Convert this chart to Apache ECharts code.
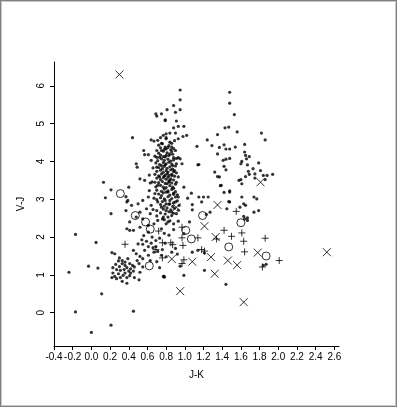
<!DOCTYPE html>
<html>
<head>
<meta charset="utf-8">
<script src="https://cdn.jsdelivr.net/npm/echarts@6/dist/echarts.min.js"></script>
<style>
html,body{margin:0;padding:0;background:#fff;}
#wrap{position:relative;width:397px;height:407px;}
#chart{position:absolute;left:0;top:0;width:397px;height:407px;}
#frame{position:absolute;left:0;top:0;width:397px;height:407px;box-sizing:border-box;border:1px solid #808080;box-shadow:inset 0 0 0 1px #c8c8c8;pointer-events:none;}
</style>
</head>
<body>
<div id="wrap"><div id="chart"></div><div id="frame"></div></div>
<script>
// Axis ticks
const xTicks = [-0.4,-0.2,0.0,0.2,0.4,0.6,0.8,1.0,1.2,1.4,1.6,1.8,2.0,2.2,2.4,2.6];
const yTicks = [0,1,2,3,4,5,6];

// Small filled dots [J-K, V-J]
const dots = [
 [-0.24,1.07],[-0.17,2.07],[-0.17,0.02],[-0.03,1.23],[0.0,-0.52],[0.05,1.86],[0.07,1.18],[0.11,0.50],[0.21,-0.33],[0.45,0.04],
 [0.13,3.45],[0.15,3.04],[0.21,3.25],[0.21,2.62],[0.44,4.63],
 [0.22,1.59],[0.25,1.56],[0.37,3.07],[0.38,2.93],[0.40,3.32],[0.37,2.70],[0.41,2.18],
 [0.30,1.45],[0.33,1.38],[0.36,1.34],[0.39,1.43],[0.41,1.30],[0.44,1.25],[0.30,1.22],[0.27,1.14],[0.23,1.05],[0.25,0.96],
 [0.27,0.90],[0.31,0.93],[0.34,0.99],[0.36,1.05],[0.40,1.10],[0.42,1.16],[0.45,1.10],[0.41,0.98],[0.38,0.93],[0.33,0.83],
 [0.29,1.03],[0.31,1.12],[0.35,1.14],[0.38,1.19],[0.46,1.21],[0.51,1.30],[0.52,1.07],[0.51,0.87],[0.38,0.78],[0.36,1.25],
 [0.33,1.30],[0.29,1.37],[0.26,1.28],[0.23,1.19],[0.22,0.93],[0.42,1.05],[0.46,0.93],
 [0.57,1.65],[0.61,1.75],[0.55,1.81],[0.59,1.89],[0.64,1.84],[0.69,1.75],[0.71,1.62],[0.76,1.67],[0.75,1.52],[0.79,1.84],
 [0.50,1.82],[0.54,1.93],[0.56,2.04],[0.61,2.13],[0.65,2.00],[0.69,1.91],[0.73,1.97],[0.45,1.65],[0.48,1.56],[0.52,1.49],
 [0.55,1.43],[0.49,1.38],[0.61,1.52],[0.67,1.60],[0.63,1.38],[0.78,0.96],[0.73,1.19],[0.55,1.21],
 [0.80,1.48],[0.86,1.60],[0.90,1.70],[0.66,1.72],[0.70,1.35],[0.92,1.55],[0.83,2.05],[0.88,2.20],[0.78,2.10],
 [0.39,2.97],[0.43,2.84],[0.50,2.88],[0.55,2.97],[0.61,3.06],[0.68,3.15],[0.75,3.10],[0.80,3.19],[0.71,2.93],[0.64,2.84],
 [0.59,2.75],[0.52,2.66],[0.48,2.53],[0.41,2.40],[0.55,2.48],[0.63,2.62],[0.70,2.70],[0.75,2.79],[0.80,2.88],[0.77,2.53],
 [0.71,2.44],[0.67,2.35],[0.80,2.35],[0.75,2.22],[0.61,2.31],[0.52,2.26],[0.45,2.18],[0.38,2.22],
 [0.69,5.26],[0.70,5.20],[0.75,5.26],[0.79,5.10],[0.81,5.37],[0.56,4.29],[0.57,4.18],[0.61,4.18],[0.48,3.94],[0.49,3.85],
 [0.64,4.57],[0.67,4.54],[0.71,4.56],[0.74,4.63],[0.77,4.69],[0.80,4.73],[0.80,4.60],[0.75,4.48],[0.79,4.38],[0.70,4.29],
 [0.75,4.29],[0.80,4.33],[0.73,4.11],[0.77,4.13],[0.80,4.16],[0.52,3.54],[0.57,3.50],[0.63,3.43],[0.68,3.45],[0.73,3.59],
 [0.79,3.63],[0.84,3.50],[0.71,3.37],[0.77,3.32],[0.81,3.41],[0.70,3.85],[0.75,3.89],[0.80,3.94],[0.64,4.03],[0.70,4.11],
 [0.95,5.89],[0.95,5.63],[0.95,5.37],[0.88,5.48],[0.90,5.30],[0.79,5.08],[0.91,5.07],[0.93,4.93],[0.88,4.89],[0.99,4.93],
 [1.02,4.69],[0.98,4.66],[0.90,4.75],[0.84,4.75],[0.80,4.63],[0.84,4.51],[0.89,4.55],[0.93,4.60],[0.86,4.38],[0.90,4.29],
 [0.93,4.10],[0.88,4.10],[0.84,4.20],[0.91,3.94],[0.87,3.89],[0.89,3.76],[0.93,3.59],[0.86,3.63],[0.83,3.45],[0.91,3.45],
 [0.87,3.32],[0.99,3.32],[0.97,3.94],[0.95,4.07],
 [0.72,4.43],[0.76,4.47],[0.83,4.42],[0.86,4.48],[0.74,4.36],[0.78,4.32],[0.82,4.37],[0.85,4.31],[0.88,4.34],
 [0.72,4.22],[0.77,4.27],[0.81,4.23],[0.86,4.26],[0.74,4.17],[0.79,4.12],[0.83,4.16],[0.87,4.19],[0.68,4.14],
 [0.71,4.02],[0.75,4.07],[0.78,4.03],[0.82,4.06],[0.85,4.01],[0.88,4.04],[0.91,4.08],
 [0.69,3.96],[0.73,3.92],[0.77,3.97],[0.79,3.91],[0.83,3.98],[0.86,3.93],[0.90,3.88],
 [0.72,3.84],[0.76,3.81],[0.78,3.87],[0.81,3.82],[0.84,3.86],[0.87,3.80],[0.66,3.83],
 [0.70,3.74],[0.74,3.77],[0.77,3.71],[0.80,3.76],[0.82,3.72],[0.85,3.78],[0.88,3.73],[0.91,3.70],
 [0.68,3.66],[0.72,3.62],[0.75,3.67],[0.78,3.61],[0.81,3.68],[0.83,3.63],[0.86,3.66],[0.89,3.61],[0.62,3.64],
 [0.70,3.56],[0.74,3.52],[0.77,3.57],[0.80,3.53],[0.82,3.58],[0.85,3.54],[0.88,3.51],
 [0.72,3.44],[0.76,3.47],[0.79,3.42],[0.83,3.48],[0.86,3.43],[0.90,3.40],[0.65,3.46],
 [0.69,3.33],[0.74,3.37],[0.80,3.31],[0.84,3.36],[0.88,3.29],
 [0.70,3.24],[0.75,3.21],[0.78,3.27],[0.82,3.22],[0.86,3.26],[0.90,3.20],[0.62,3.23],
 [0.72,3.14],[0.77,3.17],[0.84,3.11],[0.88,3.16],[0.92,3.12],
 [0.74,3.04],[0.78,3.01],[0.82,3.07],[0.86,3.02],[0.90,3.06],[0.67,3.03],
 [0.76,2.94],[0.84,2.97],[0.88,2.91],[0.92,2.96],[0.70,2.99],
 [0.74,2.86],[0.78,2.82],[0.83,2.87],[0.87,2.81],[0.94,2.84],
 [0.77,2.74],[0.81,2.77],[0.85,2.72],[0.89,2.76],[0.93,2.71],[0.66,2.73],
 [0.74,2.64],[0.79,2.61],[0.83,2.67],[0.88,2.63],[0.82,2.53],[0.86,2.57],[0.70,2.56],[0.78,2.46],[0.84,2.43],
 [0.80,2.70],[0.86,2.66],[0.91,2.62],[0.76,2.48],[0.82,2.40],[0.88,2.35],[0.93,2.42],[0.90,2.93],[0.84,2.88],[0.79,2.97],
 [0.88,3.13],[0.93,3.06],[0.82,3.19],
 [1.07,3.16],[1.08,2.86],[1.05,2.40],[1.03,3.03],[1.13,4.40],[1.15,3.92],[1.15,3.06],[1.20,3.06],[1.25,3.06],[1.18,2.93],
 [1.27,2.66],[1.23,2.60],[1.08,2.72],[0.99,2.09],[1.08,1.60],[1.14,1.65],[1.21,1.58],[0.78,0.94],[0.99,0.99],[1.21,1.12],
 [1.44,0.75],[0.95,1.23],[0.77,0.96],
 [1.48,5.83],[1.48,5.54],[1.53,5.24],[1.47,4.91],[1.43,4.89],[1.56,4.78],[1.35,4.71],[1.24,4.57],[1.29,4.42],[1.37,4.37],
 [1.42,4.44],[1.44,4.33],[1.48,4.33],[1.54,4.38],[1.35,4.20],[1.41,4.03],[1.44,4.06],[1.48,4.08],[1.42,3.87],[1.44,3.78],
 [1.32,3.72],[1.35,3.60],[1.37,3.59],[1.14,3.91],[1.39,3.37],[1.38,3.36],[1.42,3.18],[1.48,3.22],[1.47,2.94],[1.45,2.75],
 [1.64,4.45],[1.64,4.25],[1.65,4.16],[1.69,4.13],[1.66,4.07],[1.61,4.00],[1.60,3.94],[1.67,3.91],[1.68,3.74],[1.69,3.66],
 [1.65,3.60],[1.60,3.52],[1.61,3.41],[1.58,3.50],
 [1.82,4.75],[1.86,4.57],[1.79,3.96],[1.73,3.81],[1.75,3.67],[1.81,3.76],[1.86,3.52],[1.88,3.63],[1.94,3.66],[1.84,3.63],
 [1.75,3.56],[1.74,3.06],[1.77,3.01],[1.74,2.66],[1.79,2.70],
 [1.48,3.19],[1.48,2.93],[1.61,3.06],[1.63,2.88],[1.59,2.79],[1.65,2.84],[1.67,2.44],[1.64,2.48],[1.67,2.51],[1.63,2.55],
 [1.87,1.28],[1.84,1.25]
];

// Open circles
const circles = [
 [0.31,3.15],[0.47,2.57],[0.58,2.40],[0.63,2.21],[0.62,1.24],[1.19,2.57],[1.01,2.18],[1.07,1.95],[1.47,1.74],[1.60,2.38],[1.87,1.50]
];

// Plus signs
const pluses = [
 [0.36,1.81],[0.72,2.16],[0.69,1.67],[0.76,1.45],[0.76,1.85],[0.85,1.85],[0.87,1.80],[0.97,2.26],[0.97,1.98],[0.98,1.78],
 [0.97,1.30],[0.99,1.40],[1.14,1.98],[1.18,1.67],[1.21,1.63],[1.42,2.18],[1.50,2.02],[1.61,2.11],[1.63,1.89],[1.64,1.61],
 [1.55,2.68],[1.86,1.97],[1.83,1.21],[2.01,1.38],[1.34,1.95]
];

// X marks
const crosses = [
 [0.30,6.30],[1.81,3.45],[1.35,2.85],[0.91,2.79],[1.21,2.29],[1.33,2.00],[0.86,1.42],[1.08,1.35],[1.28,1.47],[1.46,1.38],
 [1.56,1.26],[1.78,1.59],[2.52,1.60],[1.32,1.03],[0.95,0.57],[1.63,0.28]
];

const font = 'Liberation Sans, Helvetica, Arial, sans-serif';
const chart = echarts.init(document.getElementById('chart'), null, {renderer:'canvas'});
const lineStyle = {color:'#000', width:1};
chart.setOption({
  animation:false,
  backgroundColor:'#fff',
  grid:{left:54, right:58, top:62, bottom:61, containLabel:false},
  xAxis:{
    type:'value', min:-0.4, max:2.65,
    name:'J-K', nameLocation:'middle', nameGap:24,
    nameTextStyle:{color:'#000', fontSize:10, fontFamily:font},
    axisLine:{show:true, onZero:false, lineStyle:lineStyle},
    axisTick:{show:true, length:4, lineStyle:lineStyle, customValues:xTicks},
    axisLabel:{color:'#000', fontSize:10, fontFamily:font, margin:6, customValues:xTicks,
      formatter:v=>v.toFixed(1)},
    splitLine:{show:false}
  },
  yAxis:{
    type:'value', min:-0.88, max:6.63,
    name:'V-J', nameLocation:'middle', nameGap:28, nameRotate:90,
    nameTextStyle:{color:'#000', fontSize:10, fontFamily:font},
    axisLine:{show:true, onZero:false, lineStyle:lineStyle},
    axisTick:{show:true, length:4, lineStyle:lineStyle, customValues:yTicks},
    axisLabel:{color:'#000', fontSize:10, fontFamily:font, margin:8, rotate:90, customValues:yTicks,
      formatter:v=>String(v)},
    splitLine:{show:false}
  },
  series:[
    {type:'scatter', data:dots, symbol:'circle', symbolSize:3.2,
     itemStyle:{color:'#000'}, emphasis:{disabled:true}, silent:true},
    {type:'scatter', data:circles, symbol:'circle', symbolSize:8,
     itemStyle:{color:'rgba(0,0,0,0)', borderColor:'#000', borderWidth:1}, emphasis:{disabled:true}, silent:true},
    {type:'scatter', data:pluses, symbol:'path://M0,5L10,5M5,0L5,10', symbolSize:7,
     itemStyle:{color:'rgba(0,0,0,0)', borderColor:'#000', borderWidth:1}, emphasis:{disabled:true}, silent:true},
    {type:'scatter', data:crosses, symbol:'path://M0,0L10,10M10,0L0,10', symbolSize:8,
     itemStyle:{color:'rgba(0,0,0,0)', borderColor:'#000', borderWidth:1}, emphasis:{disabled:true}, silent:true}
  ]
});
</script>
</body>
</html>
